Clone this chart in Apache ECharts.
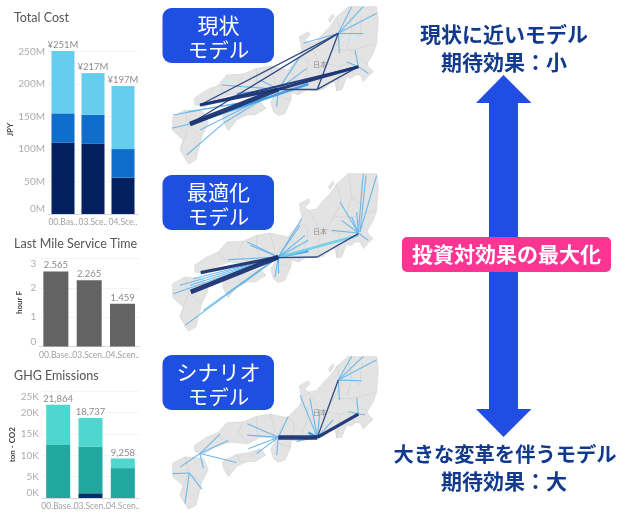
<!DOCTYPE html>
<html><head><meta charset="utf-8">
<style>html,body{margin:0;padding:0;background:#fff}#c{width:627px;height:515px;filter:blur(.3px)}</style>
<script src="https://cdn.jsdelivr.net/npm/echarts@6/dist/echarts.min.js"></script>
</head><body><div id="c"></div>
<script>
// ---- bar chart data
const costCats = ['00.Bas..','03.Sce..','04.Sce..'];
const costTier1 = [110,108,56];
const costTier2 = [45,45,44];
const costTier3 = [96,64,97];
const costTotals = [251,217,197];
const timeCats = ['00.Base..','03.Scen..','04.Scen..'];
const timeValues = [2.565,2.265,1.459];
const ghgCats = ['00.Base..','03.Scen..','04.Scen..'];
const ghgTier0 = [0,1100,0];
const ghgTier1 = [12400,10900,7000];
const ghgTier2 = [9464,6737,2258];
const ghgTotals = [21864,18737,9258];
// ---- map data (map units)
const honshu = [[565,20],[650,20],[655,60],[652,100],[650,130],[640,160],[622,190],[625,200],[640,215],[628,225],[610,245],[600,225],[585,225],[575,235],[560,232],[545,270],[530,272],[525,245],[510,250],[490,268],[470,272],[440,270],[415,285],[395,278],[392,300],[375,340],[355,347],[340,335],[332,305],[345,285],[335,270],[300,270],[265,290],[210,285],[165,300],[135,320],[105,315],[103,295],[140,270],[175,255],[200,225],[250,222],[290,205],[330,198],[385,210],[395,195],[420,170],[425,150],[445,130],[470,125],[490,100],[510,80],[530,50]];
const shikoku = [[188,345],[230,322],[265,318],[300,305],[318,325],[285,345],[260,345],[230,360],[205,392],[190,365]];
const kyushu = [[38,350],[75,330],[130,335],[145,370],[125,410],[108,480],[85,492],[60,450],[70,420],[38,392]];
const noto = [[425,150],[418,110],[445,95],[450,105],[435,120],[445,130]];
const sado = [[505,60],[518,42],[522,50],[510,68]];
const awaji = [[345,272],[362,240],[368,245],[355,275]];
const borders = [
 [[530,50],[545,110],[520,150],[500,190],[480,205],[472,270]],
 [[565,20],[575,90],[560,140],[590,170],[622,190]],
 [[500,190],[540,200],[560,190],[585,225]],
 [[420,170],[445,180],[440,220],[415,285]],
 [[385,210],[405,230],[395,278]],
 [[330,198],[345,250],[335,270]],
 [[290,205],[290,245],[300,270]],
 [[250,222],[235,255],[265,290]],
 [[175,255],[190,275],[210,285]],
 [[520,150],[575,150],[650,130]],
 [[230,322],[240,345],[260,345]],
 [[300,305],[270,330]],
 [[75,330],[85,380],[125,410]],
 [[85,380],[60,450]],
 [[540,200],[530,272]],
 [[360,290],[392,300]],
 [[445,130],[470,170],[480,205]],
 [[605,40],[600,110],[575,90]]
];
// routes: x1, y1, x2, y2, flow tier
const routesCurrent = [
 [535,100,575,20,1],[535,100,610,20,1],[535,100,650,40,1],[535,100,610,100,1],[535,100,538,160,1],[535,100,430,130,1],
 [595,200,585,150,1],[595,200,560,185,1],[595,200,625,220,1],
 [355,268,300,240,1],[355,268,185,255,1],[355,268,230,280,1],[355,268,420,170,1],[355,268,440,205,1],[355,268,350,320,1],
 [90,372,35,385,1],[40,345,230,310,1],[80,465,190,370,1],[120,390,280,310,1],[190,370,320,290,1],[85,335,300,300,1],
 [90,372,445,252,2],
 [120,315,535,100,3],[90,372,535,100,3],[472,268,535,100,3],[355,268,472,268,3],[472,268,595,200,3],
 [120,315,595,200,4],[355,268,595,200,5],[120,315,355,268,5],[90,372,355,268,6]
];
const routesOptimal = [
 [355,270,425,155,1],[355,270,420,175,1],[355,270,435,205,1],[355,270,445,220,1],[355,270,262,225,1],[355,270,205,278,1],[355,270,240,300,1],[355,270,345,330,1],[355,270,355,320,1],[355,270,270,235,1],
 [355,270,100,335,1],[355,270,90,355,1],[355,270,60,355,1],[355,270,40,380,1],[355,270,75,475,1],[355,270,130,430,1],[355,270,200,380,1],[355,270,240,355,1],
 [595,198,540,105,1],[595,198,545,160,1],[595,198,575,150,1],[595,198,515,190,1],[595,198,625,220,1],[595,198,590,135,1],
 [610,20,595,195,1],[650,25,600,195,1],[618,25,600,195,1],
 [355,270,445,252,2],[360,270,595,205,7],
 [355,272,472,270,3],[472,270,595,200,3],
 [122,317,355,270,5],[92,375,355,270,6]
];
const routesScenario = [
 [535,93,575,20,1],[535,93,610,20,1],[535,93,650,30,1],[535,93,605,95,1],[535,93,538,155,1],
 [595,198,590,148,1],[595,198,565,190,1],[595,198,615,200,1],
 [472,270,420,140,1],[472,270,450,150,1],[472,270,480,185,1],[472,270,445,255,2],[472,270,520,215,1],[472,270,410,282,1],
 [355,270,262,228,1],[355,270,262,263,1],[355,270,385,205,1],[355,270,350,325,1],[355,270,265,305,1],[355,270,290,320,1],
 [120,320,60,362,1],[120,320,180,260,1],[120,320,205,280,1],[120,320,130,365,1],[120,320,230,348,1],
 [88,380,38,382,1],[88,380,75,475,1],[88,380,125,430,1],
 [472,270,535,93,3],[472,270,595,198,5],[355,270,472,270,6]
];
const mapCaption = '日本';
const mapCaptionAt = [480,193];

const LAND = [honshu,shikoku,kyushu,noto,sado,awaji];
const flowStyle = {
 1:{width:1.1,color:'#66b6ea'},2:{width:2.5,color:'#3c9ce4'},3:{width:1.3,color:'#24407f'},
 4:{width:2,color:'#1c3a80'},5:{width:3.2,color:'#1a3372'},6:{width:4.6,color:'#1a3372'},7:{width:2.6,color:'#6fd0ea'}
};
const FONT='Lato,sans-serif', JP='"Noto Sans CJK JP",sans-serif';

const grid=[
 {left:48,top:45.2,width:90,height:168.8},
 {left:39.2,top:258.7,width:100,height:87.7},
 {left:42,top:391.3,width:97,height:106.7},
 {left:160,top:0,width:230,height:170},
 {left:160,top:167,width:230,height:170},
 {left:160,top:350,width:230,height:170}
];
function catAxis(i,d){return{type:'category',gridIndex:i,data:d,axisTick:{show:false},
 axisLine:{lineStyle:{color:'#d8d8d8'}},axisLabel:{color:'#a0a0a0',fontSize:8.5,fontFamily:FONT,margin:4,interval:0}};}
function valAxis(i,name,gap,o){return Object.assign({type:'value',gridIndex:i,name:name,nameLocation:'middle',nameGap:gap,
 nameTextStyle:{color:'#444',fontSize:8,fontFamily:FONT,fontWeight:700},axisLine:{show:false},axisTick:{show:false},
 splitLine:{lineStyle:{color:'#f4f4f4'}},axisLabel:{color:'#adadad',fontSize:10,fontFamily:FONT,margin:3}},o);}
const xAxis=[catAxis(0,costCats),catAxis(1,timeCats),catAxis(2,ghgCats)];
const yAxis=[
 valAxis(0,'JPY',24,{min:0,max:260,interval:50,splitLine:{showMaxLine:false,lineStyle:{color:'#f4f4f4'}},
   axisLabel:{color:'#adadad',fontSize:10,fontFamily:FONT,margin:3,showMaxLabel:false,formatter:v=>v+'M',verticalAlignMinLabel:'bottom'}}),
 valAxis(1,'hour F',16,{min:0,max:3,interval:1,axisLabel:{color:'#adadad',fontSize:10,fontFamily:FONT,margin:3,verticalAlignMinLabel:'bottom',verticalAlignMaxLabel:'top'}}),
 valAxis(2,'ton - CO2',19,{min:0,max:25000,interval:5000,axisLabel:{color:'#adadad',fontSize:10,fontFamily:FONT,margin:3,formatter:v=>(v/1000)+'K',verticalAlignMinLabel:'bottom',verticalAlignMaxLabel:'top'}})
];
[3,4,5].forEach(i=>{
 xAxis.push({type:'value',gridIndex:i,min:0,max:690,show:false});
 yAxis.push({type:'value',gridIndex:i,min:0,max:510,inverse:true,show:false});
});
const topLabel=(f)=>({show:true,position:'top',distance:1,color:'#8c8c8c',fontSize:9.5,fontFamily:FONT,formatter:f});
function bar(i,data,color,width,label){
 return{type:'bar',xAxisIndex:i,yAxisIndex:i,stack:'s'+i,data,barWidth:width,itemStyle:{color},label:label||{show:false},clip:false,silent:true};
}
const series=[
 bar(0,costTier1,'#04205f',23),
 bar(0,costTier2,'#0f6dcc',23),
 bar(0,costTier3,'#66cdee',23,topLabel(p=>'¥'+costTotals[p.dataIndex]+'M')),
 bar(1,timeValues,'#636363',25,topLabel(p=>p.value.toFixed(3))),
 bar(2,ghgTier0,'#03306b',24),
 bar(2,ghgTier1,'#22a79f',24),
 bar(2,ghgTier2,'#4fd6cf',24,topLabel(p=>ghgTotals[p.dataIndex].toLocaleString('en-US')))
];
function addMap(gi,routes){
 series.push({type:'custom',coordinateSystem:'cartesian2d',xAxisIndex:gi,yAxisIndex:gi,silent:true,z:1,
  data:LAND.map((_,k)=>[k]),encode:{x:[],y:[]},
  renderItem:(p,api)=>({type:'polygon',shape:{points:LAND[api.value(0)].map(pt=>api.coord(pt))},
    style:{fill:'#e3e3e3',stroke:'#d0d0d0',lineWidth:.5}})});
 series.push({type:'lines',coordinateSystem:'cartesian2d',xAxisIndex:gi,yAxisIndex:gi,polyline:true,silent:true,z:2,
  lineStyle:{color:'#bdbdbd',width:.6},data:borders.map(b=>({coords:b}))});
 series.push({type:'scatter',xAxisIndex:gi,yAxisIndex:gi,silent:true,z:3,symbolSize:0,data:[mapCaptionAt],
  label:{show:true,position:'inside',formatter:mapCaption,color:'#777',fontSize:7,fontFamily:JP}});
 series.push({type:'lines',coordinateSystem:'cartesian2d',xAxisIndex:gi,yAxisIndex:gi,silent:true,z:4,
  data:routes.map(r=>({coords:[[r[0],r[1]],[r[2],r[3]]],lineStyle:Object.assign({opacity:.95},flowStyle[r[4]])}))});
}
addMap(3,routesCurrent);addMap(4,routesOptimal);addMap(5,routesScenario);

function t(text,cx,cy,size,fill,weight){return{type:'text',z:20,style:{text,x:cx,y:cy,align:'center',verticalAlign:'middle',
  font:(weight||400)+' '+size+'px '+JP,fill}};}
function badge(top,l1,l2){return[
 {type:'rect',z:19,shape:{x:162.5,y:top,width:111.5,height:55,r:9},style:{fill:'#1f4fe0'}},
 t(l1,218.5,top+17,21,'#fff'),t(l2,218.5,top+42,20.5,'#fff')];}
const NAVY='#123a8c';
const graphic=[
 ...badge(8,'現状','モデル'),...badge(175,'最適化','モデル'),...badge(355,'シナリオ','モデル'),
 {type:'polygon',z:15,shape:{points:[[503.5,75],[531.5,103],[518,103],[518,409],[531.5,409],[503.5,437],[476,409],[489,409],[489,103],[476,103]]},style:{fill:'#204ee4'}},
 {type:'rect',z:16,shape:{x:402,y:237,width:209,height:35,r:5},style:{fill:'#fc3593'}},
 t('投資対効果の最大化',506.5,254.5,21,'#fff',700),
 t('現状に近いモデル',504,34,21,NAVY,700),t('期待効果\uFF1A小',504,62,21,NAVY,700),
 t('大きな変革を伴うモデル',505,454,20.3,NAVY,700),t('期待効果\uFF1A大',504,481,21,NAVY,700)
];
const title=[['Total Cost',11],['Last Mile Service Time',237],['GHG Emissions',369]].map(a=>({text:a[0],left:14,top:a[1],padding:0,
  textStyle:{color:'#555',fontSize:12.5,fontWeight:400,fontFamily:FONT}}));
echarts.init(document.getElementById('c'),null,{renderer:'canvas'}).setOption({animation:false,backgroundColor:'#fff',title,grid,xAxis,yAxis,series,graphic});
</script></body></html>
